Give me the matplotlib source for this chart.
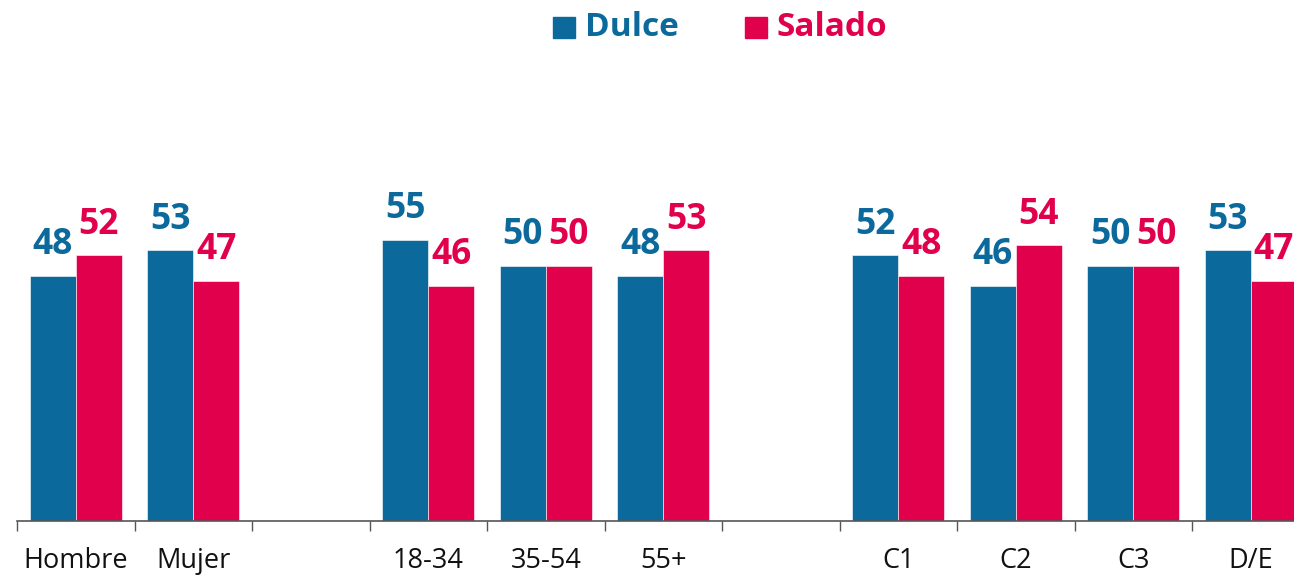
import matplotlib
matplotlib.use("Agg")
import matplotlib.pyplot as plt
from matplotlib.patches import Rectangle
import numpy as np

plt.rcParams['font.family'] = ['Open Sans', 'DejaVu Sans']

categories = ["Hombre", "Mujer", "", "18-34", "35-54", "55+", "", "C1", "C2", "C3", "D/E"]
dulce = [48, 53, None, 55, 50, 48, None, 52, 46, 50, 53]
salado = [52, 47, None, 46, 50, 53, None, 48, 54, 50, 47]
series_names = ["Dulce", "Salado"]

BLUE = "#0b699c"
RED = "#e1004c"

W, H = 1294, 576
fig = plt.figure(figsize=(W / 100, H / 100), dpi=100)
# axis spans slightly past the right edge of the canvas
ax = fig.add_axes([17 / W, 55 / H, 1292.5 / W, 511 / H])

x = np.arange(len(categories))
w = 0.39
for vals, off, col in ((dulce, -w / 2, BLUE), (salado, w / 2, RED)):
    for xi, v in zip(x, vals):
        if v is None:
            continue
        ax.bar(xi + off, v, width=w, color=col, edgecolor="white", linewidth=0.4)
        ax.annotate(f"{v}", (xi + off, v), xytext=(0, 9), textcoords="offset points",
                    ha="center", va="bottom", fontsize=25.5, fontweight="bold", color=col)

ax.set_xlim(-0.5, len(categories) - 0.5)
ax.set_ylim(0, 100)

ax.set_xticks(x)
ax.set_xticklabels(categories, fontsize=19.5, color="#111111")
ax.tick_params(axis="x", which="major", length=0, pad=19)
ax.set_xticks(np.arange(len(categories) + 1) - 0.5, minor=True)
ax.tick_params(axis="x", which="minor", length=7.5, width=1, color="#555555")
ax.set_yticks([])

for s in ("top", "right", "left"):
    ax.spines[s].set_visible(False)
ax.spines["bottom"].set_color("#555555")
ax.spines["bottom"].set_linewidth(1.2)

# legend: square swatches with bold series names
legend_y = 1 - 27 / H
for name, col, sx in ((series_names[0], BLUE, 553), (series_names[1], RED, 745)):
    fig.patches.append(Rectangle((sx / W, 1 - 38 / H), 22 / W, 21 / H,
                                 transform=fig.transFigure, color=col))
    fig.text((sx + 32) / W, legend_y, name, color=col, fontsize=24, fontweight="bold",
             va="center", ha="left")

fig.savefig("out.png", dpi=100)
